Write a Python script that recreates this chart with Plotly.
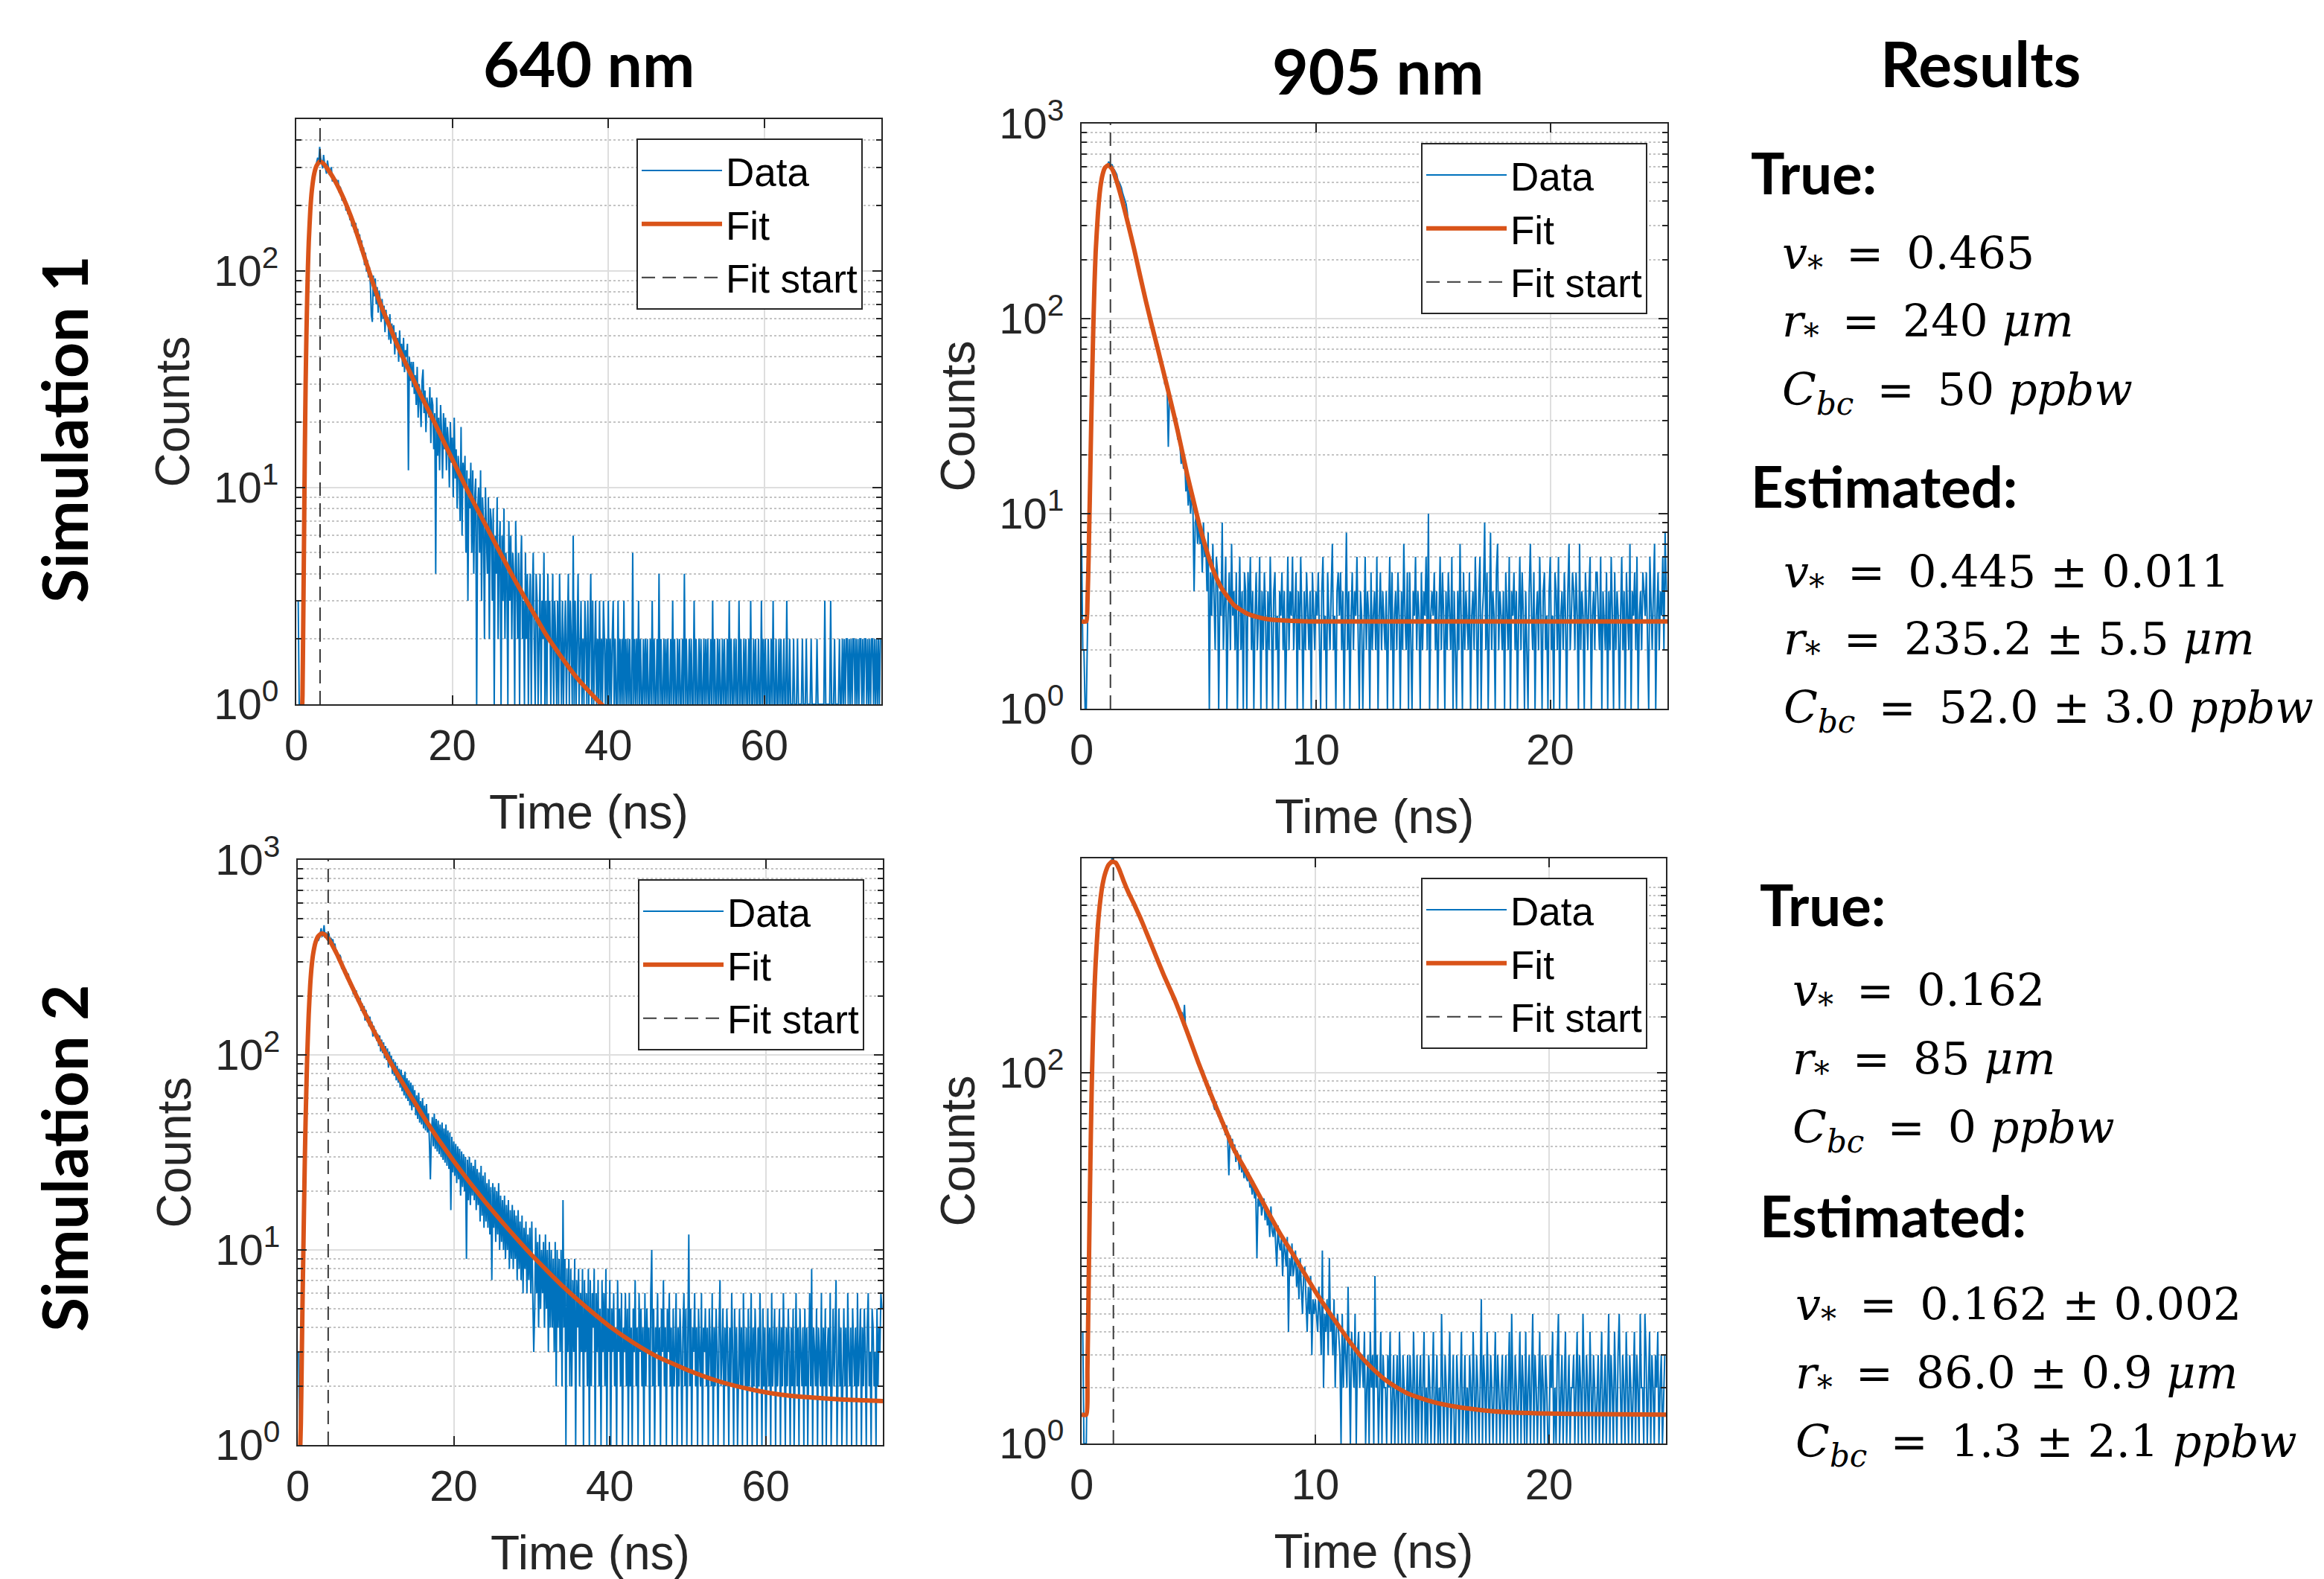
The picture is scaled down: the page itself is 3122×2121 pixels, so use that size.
import numpy as np
import plotly.graph_objects as go

W, H = 3122, 2121

# ---------------- data ----------------
# histogram bin width (ns) used for the read-off counts
DT_640 = 0.125
DT_905 = 0.05

# Simulation 1, 640 nm - photon counts per bin (20 bins per row = 2.5 ns)
sim1_640_counts = [
    3, 3, 3, 1, 1, 1, 1, 2, 7, 18, 38, 66, 104, 141, 178, 206, 236, 262, 284, 290,
    296, 318, 332, 305, 372, 330, 318, 296, 342, 312, 296, 280, 322, 301, 276, 292, 300, 258, 262, 271,
    250, 264, 241, 262, 229, 244, 236, 210, 226, 205, 216, 189, 205, 182, 196, 171, 183, 160, 175, 158,
    150, 166, 142, 156, 133, 147, 124, 138, 118, 128, 106, 121, 99, 112, 93, 104, 86, 62, 58, 95,
    76, 92, 70, 84, 64, 81, 73, 58, 74, 60, 69, 52, 66, 57, 61, 48, 63, 46, 57, 50,
    56, 41, 52, 44, 49, 38, 53, 40, 46, 36, 49, 34, 43, 40, 46, 12, 40, 31, 38, 29,
    38, 27, 33, 24, 36, 21, 30, 25, 19, 31, 35, 22, 28, 18, 26, 24, 21, 29, 16, 26,
    24, 15, 22, 4, 26, 14, 21, 12, 24, 18, 11, 22, 15, 21, 12, 19, 16, 10, 20, 13,
    17, 9, 21, 11, 15, 8, 14, 12, 7, 19, 6, 13, 10, 14, 5, 12, 3, 11, 8, 13,
    5, 12, 4, 9, 11, 1, 8, 10, 5, 12, 3, 9, 7, 2, 10, 6, 4, 9, 2, 8,
    7, 3, 8, 1, 6, 4, 9, 2, 5, 7, 1, 6, 3, 8, 2, 5, 4, 1, 7, 3,
    6, 2, 5, 4, 1, 7, 3, 2, 5, 1, 4, 6, 2, 3, 1, 5, 2, 4, 1, 3,
    4, 1, 3, 5, 2, 1, 4, 3, 1, 2, 4, 1, 3, 2, 5, 1, 3, 1, 4, 2,
    3, 1, 2, 4, 1, 3, 2, 1, 3, 1, 4, 2, 1, 3, 1, 2, 3, 1, 2, 4,
    1, 3, 2, 1, 6, 1, 3, 1, 2, 4, 1, 2, 3, 1, 2, 1, 3, 2, 1, 3,
    1, 2, 4, 1, 3, 1, 2, 3, 1, 2, 1, 3, 1, 2, 1, 3, 2, 1, 2, 1,
    3, 1, 2, 1, 2, 3, 1, 2, 1, 1, 3, 1, 2, 1, 2, 1, 3, 1, 2, 1,
    2, 1, 2, 1, 1, 5, 1, 2, 1, 2, 1, 3, 1, 2, 1, 1, 2, 1, 2, 1,
    2, 1, 1, 2, 1, 3, 1, 2, 1, 1, 2, 1, 4, 1, 2, 1, 1, 2, 1, 2,
    1, 2, 1, 1, 2, 1, 3, 1, 2, 1, 1, 2, 1, 2, 1, 1, 2, 1, 4, 1,
    2, 1, 1, 2, 1, 2, 1, 1, 3, 1, 2, 1, 1, 2, 1, 2, 1, 1, 2, 1,
    2, 1, 2, 1, 1, 2, 1, 3, 1, 2, 1, 1, 2, 1, 2, 1, 1, 2, 1, 2,
    1, 1, 2, 1, 3, 1, 2, 1, 1, 2, 1, 2, 1, 1, 3, 1, 2, 1, 1, 2,
    1, 2, 1, 1, 2, 1, 3, 1, 1, 2, 1, 2, 1, 1, 2, 1, 1, 3, 1, 2,
    1, 2, 1, 1, 2, 1, 1, 2, 1, 3, 1, 1, 2, 1, 1, 2, 1, 2, 1, 1,
    2, 1, 1, 3, 1, 1, 2, 1, 1, 1, 2, 1, 1, 1, 2, 1, 1, 1, 1, 2,
    1, 1, 1, 2, 1, 1, 1, 1, 2, 1, 1, 1, 1, 1, 2, 1, 1, 1, 1, 1,
    1, 1, 3, 1, 1, 1, 1, 1, 3, 1, 1, 1, 2, 1, 1, 1, 1, 2, 1, 1,
    2, 1, 2, 1, 2, 2, 1, 2, 1, 2, 1, 2, 2, 1, 2, 1, 2, 1, 2, 2,
    1, 2, 1, 2, 2, 1, 2, 1, 2, 1, 2, 2, 1, 2, 1, 2, 1, 2, 1, 2,
]

# Simulation 1, 905 nm (20 bins per row = 1 ns)
sim1_905_counts = [
    7, 2, 2, 1, 1, 3, 6, 12, 26, 48, 88, 150, 225, 290, 352, 420, 470, 515, 552, 580,
    590, 611, 602, 638, 625, 604, 618, 589, 578, 560, 548, 512, 502, 486, 468, 440, 421, 402, 386, 352,
    302, 279, 271, 248, 240, 222, 212, 196, 185, 181, 168, 150, 149, 133, 130, 119, 121, 104, 101, 96,
    94, 85, 84, 72, 76, 66, 68, 60, 58, 55, 52, 46, 49, 44, 22, 41, 37, 34, 36, 30,
    29, 31, 24, 27, 22, 18, 20, 17, 19, 13, 15, 11, 14, 10, 12, 11, 4, 9, 10, 7,
    9, 7, 8, 5, 9, 6, 7, 4, 8, 1, 5, 3, 7, 4, 2, 6, 5, 1, 4, 3,
    9, 2, 4, 6, 1, 3, 5, 2, 7, 3, 4, 2, 5, 1, 3, 6, 2, 4, 1, 5,
    4, 1, 5, 3, 6, 2, 4, 1, 3, 5, 2, 3, 6, 1, 4, 2, 5, 3, 1, 4,
    2, 6, 3, 1, 4, 5, 2, 3, 1, 4, 3, 5, 2, 4, 1, 3, 6, 2, 4, 3,
    6, 2, 3, 5, 1, 4, 2, 6, 3, 1, 4, 2, 5, 3, 2, 4, 1, 5, 3, 2,
    4, 3, 5, 2, 1, 4, 6, 2, 3, 1, 5, 3, 2, 4, 7, 2, 3, 1, 4, 5,
    3, 5, 2, 4, 1, 3, 8, 2, 4, 1, 3, 5, 2, 4, 3, 6, 2, 1, 4, 3,
    1, 3, 6, 2, 4, 3, 1, 5, 2, 3, 4, 2, 6, 1, 3, 5, 2, 4, 3, 2,
    4, 1, 3, 6, 2, 5, 1, 3, 4, 2, 5, 3, 1, 4, 2, 7, 3, 2, 5, 1,
    5, 2, 1, 4, 3, 6, 2, 4, 3, 1, 5, 2, 4, 3, 6, 2, 10, 1, 3, 4,
    3, 5, 2, 4, 1, 3, 6, 2, 5, 3, 1, 4, 2, 5, 3, 2, 6, 1, 4, 2,
    1, 4, 2, 7, 3, 1, 5, 2, 4, 3, 2, 5, 1, 3, 4, 2, 6, 3, 1, 4,
    6, 1, 3, 4, 9, 2, 5, 1, 3, 8, 2, 4, 3, 1, 5, 7, 2, 4, 3, 2,
    4, 1, 5, 3, 2, 6, 1, 4, 3, 5, 2, 4, 1, 3, 6, 2, 5, 3, 1, 4,
    2, 1, 4, 7, 3, 2, 5, 1, 3, 4, 2, 6, 3, 1, 4, 5, 2, 3, 1, 4,
    6, 2, 3, 1, 5, 4, 2, 6, 1, 3, 4, 2, 5, 3, 1, 4, 7, 2, 3, 5,
    4, 2, 5, 3, 1, 7, 2, 4, 3, 1, 5, 3, 2, 4, 6, 1, 3, 4, 2, 5,
    5, 3, 2, 6, 1, 4, 3, 2, 5, 1, 4, 2, 6, 3, 1, 5, 2, 4, 3, 1,
    3, 6, 2, 4, 1, 5, 3, 2, 7, 1, 4, 3, 5, 2, 6, 1, 3, 4, 2, 5,
    4, 3, 5, 2, 1, 6, 3, 2, 4, 7, 1, 3, 5, 2, 4, 3, 6, 2, 8, 4,
]

# Simulation 2, 640 nm (20 bins per row = 2.5 ns)
sim2_640_counts = [
    3, 3, 1, 1, 2, 4, 9, 20, 42, 70, 104, 150, 196, 240, 282, 310, 340, 360, 372, 388,
    410, 384, 396, 420, 446, 404, 418, 462, 398, 424, 412, 386, 420, 371, 398, 380, 392, 356, 372, 345,
    342, 312, 302, 326, 318, 276, 295, 282, 262, 276, 247, 262, 259, 229, 236, 222, 230, 204, 221, 196,
    214, 188, 200, 182, 196, 168, 184, 164, 178, 150, 170, 148, 160, 140, 157, 137, 148, 124, 141, 126,
    134, 118, 128, 111, 126, 104, 120, 102, 116, 96, 111, 94, 108, 86, 104, 90, 99, 80, 95, 78,
    92, 74, 88, 72, 85, 68, 84, 65, 79, 62, 82, 60, 76, 58, 74, 55, 72, 52, 70, 54,
    66, 49, 62, 47, 64, 45, 58, 44, 60, 42, 55, 41, 56, 40, 50, 36, 23, 38, 48, 34,
    50, 33, 47, 32, 46, 31, 44, 30, 45, 29, 42, 28, 44, 27, 41, 26, 40, 16, 38, 25,
    36, 24, 35, 22, 34, 23, 33, 19, 32, 21, 31, 20, 30, 9, 29, 18, 30, 17, 28, 19,
    27, 18, 29, 16, 26, 17, 25, 14, 27, 15, 24, 13, 25, 14, 22, 13, 23, 12, 21, 7,
    22, 13, 21, 11, 20, 12, 22, 10, 19, 11, 18, 10, 19, 9, 17, 10, 18, 8, 16, 9,
    17, 8, 16, 9, 15, 7, 16, 8, 14, 7, 15, 6, 13, 8, 14, 6, 12, 7, 13, 6,
    14, 6, 3, 5, 13, 6, 11, 4, 12, 5, 10, 6, 11, 4, 12, 5, 10, 3, 11, 4,
    10, 4, 9, 3, 11, 2, 10, 4, 9, 3, 10, 2, 18, 4, 9, 1, 8, 3, 9, 2,
    8, 2, 7, 3, 9, 1, 7, 4, 8, 2, 6, 3, 8, 1, 7, 3, 6, 2, 8, 1,
    7, 2, 6, 4, 8, 1, 6, 3, 7, 2, 5, 1, 7, 3, 6, 2, 8, 1, 5, 3,
    7, 1, 5, 3, 6, 2, 4, 1, 7, 3, 5, 2, 6, 1, 4, 3, 6, 2, 5, 1,
    6, 2, 4, 1, 5, 3, 7, 2, 4, 1, 6, 3, 5, 2, 4, 1, 6, 2, 5, 3,
    4, 1, 6, 10, 2, 5, 1, 4, 3, 6, 2, 4, 1, 5, 3, 7, 2, 4, 1, 5,
    3, 6, 2, 4, 1, 5, 2, 3, 6, 1, 4, 2, 5, 3, 1, 4, 6, 2, 5, 1,
    4, 12, 2, 5, 1, 4, 3, 6, 2, 4, 1, 5, 3, 2, 6, 1, 4, 3, 5, 2,
    4, 1, 5, 3, 2, 6, 1, 4, 2, 5, 3, 1, 4, 7, 2, 3, 5, 1, 4, 2,
    5, 3, 1, 4, 2, 6, 3, 1, 5, 2, 4, 1, 3, 5, 2, 4, 1, 6, 3, 2,
    4, 1, 5, 2, 3, 6, 1, 4, 2, 5, 3, 1, 4, 2, 6, 3, 1, 5, 2, 4,
    1, 3, 5, 2, 4, 1, 6, 2, 3, 5, 1, 4, 2, 3, 5, 1, 4, 2, 6, 3,
    1, 4, 2, 5, 3, 1, 4, 2, 5, 1, 3, 6, 2, 4, 1, 5, 3, 2, 4, 1,
    5, 2, 4, 1, 3, 6, 2, 8, 1, 4, 3, 2, 5, 1, 4, 3, 2, 6, 1, 4,
    2, 5, 1, 3, 4, 2, 6, 1, 3, 5, 2, 4, 7, 1, 3, 5, 2, 4, 1, 3,
    5, 2, 4, 1, 6, 3, 2, 4, 1, 5, 3, 2, 4, 1, 6, 2, 3, 5, 1, 4,
    2, 5, 3, 1, 4, 6, 2, 3, 1, 5, 4, 2, 3, 1, 5, 2, 4, 3, 6, 5,
]

# Simulation 2, 905 nm (20 bins per row = 1 ns)
sim2_905_counts = [
    4, 4, 1, 1, 1, 3, 7, 19, 48, 102, 190, 276, 402, 505, 615, 745, 870, 950, 1030, 1120,
    1190, 1214, 1290, 1305, 1350, 1342, 1435, 1380, 1360, 1352, 1330, 1310, 1275, 1205, 1170, 1136, 1095, 1030, 1000, 985,
    950, 902, 880, 870, 840, 798, 775, 770, 730, 716, 690, 660, 650, 615, 600, 590, 560, 540, 520, 512,
    490, 462, 455, 432, 420, 412, 400, 371, 365, 348, 335, 332, 322, 300, 290, 292, 276, 258, 248, 254,
    250, 228, 232, 212, 220, 196, 212, 180, 232, 170, 172, 166, 150, 158, 138, 142, 131, 125, 128, 112,
    117, 104, 109, 98, 103, 92, 86, 90, 84, 76, 84, 71, 76, 66, 63, 70, 62, 58, 62, 54,
    56, 50, 54, 46, 52, 44, 28, 46, 40, 44, 37, 41, 33, 38, 35, 30, 36, 29, 32, 27,
    30, 27, 26, 29, 24, 25, 22, 26, 21, 23, 10, 21, 19, 22, 17, 19, 21, 16, 19, 15,
    17, 13, 19, 14, 13, 16, 12, 9, 15, 12, 11, 13, 8, 12, 11, 9, 13, 4, 10, 8,
    12, 8, 9, 11, 7, 9, 6, 10, 7, 5, 8, 9, 6, 4, 7, 5, 8, 3, 6, 5,
    6, 5, 4, 7, 5, 3, 11, 2, 5, 4, 6, 3, 10, 4, 5, 3, 6, 2, 4, 5,
    4, 3, 1, 5, 2, 4, 3, 2, 7, 3, 1, 4, 3, 2, 5, 1, 3, 4, 2, 3,
    3, 2, 4, 1, 2, 3, 1, 4, 2, 3, 1, 8, 2, 3, 1, 2, 4, 1, 3, 2,
    2, 1, 3, 2, 4, 1, 2, 3, 1, 2, 3, 1, 4, 2, 1, 3, 2, 1, 2, 3,
    1, 3, 2, 1, 4, 2, 1, 3, 1, 2, 3, 1, 2, 4, 1, 2, 1, 3, 2, 1,
    2, 4, 1, 2, 3, 1, 2, 1, 5, 2, 1, 3, 2, 1, 2, 4, 1, 2, 3, 1,
    1, 3, 2, 1, 2, 4, 1, 2, 3, 1, 2, 1, 3, 2, 1, 4, 2, 1, 3, 2,
    1, 2, 6, 1, 3, 2, 1, 4, 2, 1, 3, 2, 1, 2, 4, 1, 3, 2, 1, 2,
    3, 1, 2, 3, 1, 2, 4, 1, 5, 2, 1, 3, 2, 1, 2, 4, 1, 3, 2, 1,
    4, 1, 2, 3, 1, 2, 5, 1, 3, 2, 1, 2, 4, 1, 3, 2, 1, 3, 2, 1,
    1, 3, 2, 4, 1, 2, 1, 3, 5, 1, 2, 3, 1, 2, 4, 1, 2, 3, 1, 2,
    2, 3, 1, 2, 4, 1, 3, 2, 1, 5, 2, 1, 3, 2, 1, 4, 2, 1, 3, 2,
    1, 2, 3, 1, 2, 4, 1, 2, 3, 1, 2, 5, 1, 3, 2, 1, 4, 2, 1, 3,
    5, 2, 1, 3, 2, 1, 4, 2, 1, 3, 2, 1, 2, 4, 1, 3, 2, 1, 5, 2,
    2, 1, 5, 3, 1, 2, 4, 1, 3, 2, 1, 3, 2, 4, 1, 2, 3, 1, 2, 3,
]

# fitted curves (time in ns, counts)
fit1_640_t = [0.7, 0.8, 0.9, 1.0, 1.1, 1.2, 1.3, 1.4, 1.5, 1.6, 1.8, 2.0, 2.3, 2.6, 3.0, 3.4, 3.8, 4.2,
              5, 6, 7, 8, 9, 10, 11, 12, 13, 14, 15, 16, 17, 18, 19, 20, 22, 24, 26, 28, 30,
              32, 34, 36, 38, 40, 42]
fit1_640_y = [0.8, 1.1, 2.5, 6, 15, 30, 50, 75, 105, 135, 190, 235, 280, 305, 318, 314, 302, 288,
              258, 218, 178, 140, 108, 84, 67, 55, 45, 37.5, 31.5, 26.5, 22.5, 19, 16, 13.5, 9.6, 7, 5.1, 3.75, 2.8,
              2.1, 1.65, 1.32, 1.1, 0.93, 0.8]

fit1_905_t = [0, 0.2, 0.25, 0.3, 0.35, 0.4, 0.45, 0.5, 0.55, 0.6, 0.7, 0.8, 0.9, 1.0, 1.15, 1.3, 1.5,
              1.75, 2.0, 2.25, 2.5, 2.75, 3.0, 3.25, 3.5, 3.75, 4.0, 4.25, 4.5, 4.75, 5.0, 5.25, 5.5,
              5.75, 6.0, 6.5, 7.0, 7.5, 8.0, 9.0, 10, 25]
fit1_905_y = [2.8, 2.8, 3.5, 6, 12, 25, 50, 90, 150, 220, 350, 470, 550, 595, 612, 585, 505,
              395, 300, 225, 165, 122, 92, 70, 53, 40, 30, 22, 16, 12, 9, 7, 5.6,
              4.7, 4.1, 3.4, 3.1, 2.95, 2.87, 2.82, 2.8, 2.8]

fit2_640_t = [0.3, 0.4, 0.5, 0.6, 0.7, 0.8, 0.9, 1.0, 1.2, 1.4, 1.6, 1.8, 2.0, 2.3, 2.6, 3.0, 3.4, 4.0,
              5, 6, 7, 8, 9, 10, 11, 12, 13, 14, 15, 16, 17, 18, 19, 20, 22, 24, 26, 28, 30, 32, 34,
              36, 38, 40, 43, 46, 50, 54, 58, 62, 66, 70, 75]
fit2_640_y = [0.9, 1.3, 2.5, 5, 9, 16, 28, 45, 95, 160, 230, 290, 335, 380, 405, 418, 415, 390,
              330, 270, 222, 183, 152, 127, 107, 90, 77, 66, 57, 49, 42.5, 37, 32.5, 28.5, 22.3, 17.7,
              14.2, 11.5, 9.4, 7.8, 6.5, 5.5, 4.7, 4.05, 3.35, 2.85, 2.42, 2.12, 1.93, 1.81, 1.75, 1.71, 1.68]

fit2_905_t = [0, 0.2, 0.25, 0.3, 0.35, 0.4, 0.45, 0.5, 0.55, 0.6, 0.7, 0.8, 0.9, 1.0, 1.15, 1.3, 1.45,
              1.6, 1.8, 2.0, 2.25, 2.5, 2.75, 3.0, 3.5, 4.0, 4.5, 5.0, 5.5, 6.0, 6.5, 7.0, 7.5, 8.0,
              8.5, 9.0, 9.5, 10.0, 10.5, 11.0, 11.5, 12.0, 12.5, 13.0, 13.5, 14, 15, 16, 17, 18, 20, 22, 25]
fit2_905_y = [1.43, 1.43, 2.5, 7, 20, 50, 105, 180, 280, 390, 630, 850, 1040, 1180, 1320, 1375, 1360,
              1260, 1080, 940, 810, 690, 580, 485, 340, 245, 168, 113, 78, 55, 39, 30, 23, 17.5,
              13.5, 10.7, 8.4, 6.6, 5.3, 4.3, 3.5, 2.9, 2.5, 2.2, 2.0, 1.85, 1.68, 1.58, 1.52, 1.48, 1.45, 1.44, 1.43]

# where the fit window starts (ns)
fit_start_t = [3.05, 1.23, 3.9, 1.36]

# axis limits and ticks
x_max = [75, 25, 75, 25]
y_max = [500, 1000, 1000, 1433]
x_ticks = [[0, 20, 40, 60], [0, 10, 20], [0, 20, 40, 60], [0, 10, 20]]
y_ticks = [[1, 10, 100], [1, 10, 100, 1000], [1, 10, 100, 1000], [1, 100]]

col_titles = ["640 nm", "905 nm"]
row_titles = ["Simulation 1", "Simulation 2"]

EQ = "\u00a0\u2009=\u00a0\u2009"
results_true = [
    ["<i>v</i><sub>*</sub>" + EQ + "0.465",
     "<i>r</i><sub>*</sub>" + EQ + "240 <i>μm</i>",
     "<i>C</i><sub><i>bc</i></sub>" + EQ + "50 <i>ppbw</i>"],
    ["<i>v</i><sub>*</sub>" + EQ + "0.162",
     "<i>r</i><sub>*</sub>" + EQ + "85 <i>μm</i>",
     "<i>C</i><sub><i>bc</i></sub>" + EQ + "0 <i>ppbw</i>"],
]
results_est = [
    ["<i>v</i><sub>*</sub>" + EQ + "0.445 ± 0.011",
     "<i>r</i><sub>*</sub>" + EQ + "235.2 ± 5.5 <i>μm</i>",
     "<i>C</i><sub><i>bc</i></sub>" + EQ + "52.0 ± 3.0 <i>ppbw</i>"],
    ["<i>v</i><sub>*</sub>" + EQ + "0.162 ± 0.002",
     "<i>r</i><sub>*</sub>" + EQ + "86.0 ± 0.9 <i>μm</i>",
     "<i>C</i><sub><i>bc</i></sub>" + EQ + "1.3 ± 2.1 <i>ppbw</i>"],
]

# ---------------- styling ----------------
BLUE = "#0072BD"
ORANGE = "#D95319"
AXC = "#262626"
SANS = "Liberation Sans, Arial, sans-serif"
BOLD = "Lato, sans-serif"
MATH = "DejaVu Serif, serif"
OFF = 8  # page body margin, compensated below

# pixel boxes of the four axes (left, right, top, bottom)
boxes = [(398, 1184, 160, 946), (1453, 2240, 166, 952),
         (400, 1186, 1155, 1941), (1453, 2238, 1153, 1939)]
# legend top-right corners
legend_pos = [(1159, 186), (2213, 192), (1161, 1181), (2213, 1179)]

panels = [
    (sim1_640_counts, DT_640, fit1_640_t, fit1_640_y),
    (sim1_905_counts, DT_905, fit1_905_t, fit1_905_y),
    (sim2_640_counts, DT_640, fit2_640_t, fit2_640_y),
    (sim2_905_counts, DT_905, fit2_905_t, fit2_905_y),
]


def px(x):
    return (x - OFF) / W


def py(y):
    return 1 - (y - OFF) / H


def sup(v):
    return "10<sup>%d</sup>" % int(round(np.log10(v)))


fig = go.Figure()
layout = {}

for k, (counts, dt, ft, fy) in enumerate(panels):
    n = k + 1
    xa = "x" if n == 1 else "x%d" % n
    ya = "y" if n == 1 else "y%d" % n
    lg = "legend" if n == 1 else "legend%d" % n
    t = np.arange(len(counts)) * dt

    fig.add_trace(go.Scatter(x=t, y=counts, mode="lines", name="Data",
                             line=dict(color=BLUE, width=2),
                             xaxis=xa, yaxis=ya, legend=lg))
    fig.add_trace(go.Scatter(x=ft, y=fy, mode="lines", name="Fit",
                             line=dict(color=ORANGE, width=6, shape="spline", smoothing=0.5),
                             xaxis=xa, yaxis=ya, legend=lg))
    fig.add_trace(go.Scatter(x=[fit_start_t[k], fit_start_t[k]], y=[1, y_max[k]],
                             mode="lines", name="Fit start",
                             line=dict(color="#3a3a3a", width=2, dash="18px,10px"),
                             xaxis=xa, yaxis=ya, legend=lg))

    l, r, tp, b = boxes[k]
    top_dec = int(np.ceil(np.log10(y_max[k])))
    minor = [m * 10 ** d for d in range(top_dec + 1) for m in range(1, 10)
             if 1 < m * 10 ** d <= y_max[k] and m * 10 ** d not in y_ticks[k]]

    layout["xaxis" if n == 1 else "xaxis%d" % n] = dict(
        domain=[px(l), px(r)], anchor=ya, range=[0, x_max[k]], automargin=False,
        tickvals=x_ticks[k], ticks="inside", ticklen=12, tickwidth=2, tickcolor=AXC,
        showline=True, linecolor=AXC, linewidth=2, mirror="allticks",
        showgrid=True, gridcolor="#dedede", gridwidth=2, zeroline=False,
        tickfont=dict(family=SANS, size=58, color=AXC), ticklabelstandoff=3,
        title=dict(text="Time (ns)", font=dict(family=SANS, size=64, color=AXC), standoff=37),
    )
    layout["yaxis" if n == 1 else "yaxis%d" % n] = dict(
        domain=[py(b), py(tp)], anchor=xa, type="log", automargin=False,
        range=[0, np.log10(y_max[k])],
        tickvals=y_ticks[k], ticktext=[sup(v) for v in y_ticks[k]],
        ticks="inside", ticklen=12, tickwidth=2, tickcolor=AXC,
        showline=True, linecolor=AXC, linewidth=2, mirror="allticks",
        showgrid=True, gridcolor="#dedede", gridwidth=2, zeroline=False,
        minor=dict(tickvals=minor, ticks="inside", ticklen=7, tickcolor=AXC, tickwidth=1.5,
                   showgrid=True, gridcolor="#c4c4c4", griddash="dot", gridwidth=1.8),
        tickfont=dict(family=SANS, size=58, color=AXC), ticklabelstandoff=10,
        title=dict(text="Counts", font=dict(family=SANS, size=64, color=AXC), standoff=12),
    )
    lx, ly = legend_pos[k]
    layout[lg] = dict(
        x=px(lx), y=py(ly), xanchor="right", yanchor="top",
        bgcolor="white", bordercolor=AXC, borderwidth=2,
        font=dict(family=SANS, size=53, color="black"),
        itemwidth=108, tracegroupgap=0,
    )

annotations = []


def note(text, x, y, size, family, xanchor="center", angle=0):
    annotations.append(dict(text=text, x=px(x), y=py(y), xref="paper", yref="paper",
                            xanchor=xanchor, yanchor="middle", textangle=angle, showarrow=False,
                            font=dict(family=family, size=size, color="black")))


for c, txt in enumerate(col_titles):
    note("<b>%s</b>" % txt, [791, 1851][c], [85, 94][c], 84, BOLD)
note("<b>Results</b>", 2660, 85, 84, BOLD)
for rr, txt in enumerate(row_titles):
    note("<b>%s</b>" % txt, 85, [577, 1556][rr], 84, BOLD, angle=-90)

# results block
head_x = [2350, 2362]
math_x = [[2392, 2394], [2406, 2410]]
head_y = [[232, 652], [1214, 1632]]
true_y = [[344, 436, 528], [1334, 1426, 1518]]
est_y = [[772, 862, 954], [1756, 1848, 1940]]
for g in range(2):
    for j, lab in enumerate(["True:", "Estimated:"]):
        note("<b>%s</b>" % lab, head_x[g], head_y[g][j], 76, BOLD, xanchor="left")
    for j, line in enumerate(results_true[g]):
        note(line, math_x[g][0], true_y[g][j], 60, MATH, xanchor="left")
    for j, line in enumerate(results_est[g]):
        note(line, math_x[g][1], est_y[g][j], 60, MATH, xanchor="left")

fig.update_layout(
    width=W, height=H, margin=dict(l=0, r=0, t=0, b=0),
    paper_bgcolor="white", plot_bgcolor="white",
    annotations=annotations, **layout,
)

fig.write_html("out.html")
